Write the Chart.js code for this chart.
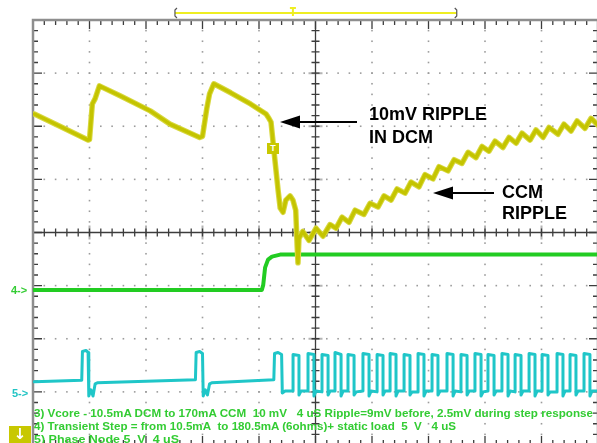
<!DOCTYPE html>
<html>
<head>
<meta charset="utf-8">
<script src="https://cdn.jsdelivr.net/npm/chart.js@4.4.0/dist/chart.umd.min.js"></script>
<style>
  html, body { margin: 0; padding: 0; background: #fff; overflow: hidden; width: 597px; height: 443px; }
  #wrap { position: relative; width: 600px; height: 447px; }
  #scope { position: absolute; left: 0; top: 0; }
  .note { position: absolute; font: bold 18px "Liberation Sans", Arial, sans-serif; color: #000; line-height: 18px; white-space: nowrap; }
  .info { position: absolute; left: 34px; font: bold 10.5px "Liberation Sans", Arial, sans-serif; color: #33cc33; line-height: 12px; white-space: nowrap; transform-origin: 0 0; }
  .chan { position: absolute; font: bold 11px "Liberation Sans", Arial, sans-serif; line-height: 11px; white-space: nowrap; }
  #trig { position: absolute; left: 267px; top: 143px; width: 12px; height: 11px; background: #c8c800; color: #fff; font: bold 9px "Liberation Sans", Arial, sans-serif; line-height: 11px; text-align: center; }
  #down { position: absolute; left: 9px; top: 426px; width: 22px; height: 20px; background: #c8c800; color: #fff; font: bold 15px "DejaVu Sans", sans-serif; line-height: 17px; text-align: center; }
</style>
</head>
<body>
<div id="wrap">
  <canvas id="scope" width="600" height="447"></canvas>
  <div class="note" style="left:369px;top:105px">10mV RIPPLE</div>
  <div class="note" style="left:369px;top:128px">IN DCM</div>
  <div class="note" style="left:502px;top:183px">CCM</div>
  <div class="note" style="left:502px;top:204px">RIPPLE</div>
  <div class="chan" style="left:11px;top:285px;color:#33cc33">4-&gt;</div>
  <div class="chan" style="left:12px;top:388px;color:#22c4c4">5-&gt;</div>
  <div id="trig">T</div>
  <div class="info" id="info1" style="top:407px" data-w="559">3) Vcore - 10.5mA DCM to 170mA CCM&nbsp; 10 mV&nbsp;&nbsp; 4 uS Ripple=9mV before, 2.5mV during step response</div>
  <div class="info" id="info2" style="top:420px" data-w="422">4) Transient Step = from 10.5mA&nbsp; to 180.5mA (6ohms)+ static load&nbsp; 5&nbsp; V&nbsp;&nbsp; 4 uS</div>
  <div class="info" id="info3" style="top:433px" data-w="145">5) Phase Node 5&nbsp; V&nbsp; 4 uS</div>
  <div id="down">↓</div>
</div>
<script>
// Time base 4 uS/div, 10 divisions on screen (0..40 uS)
const timeSpan = [0, 40];

// Ch3 Vcore, mV (10 mV/div)
const vcoreTime = [0.1, 1.9, 3.9, 4.0, 4.2, 4.4, 4.7, 6.2, 8.3, 9.7, 11.8, 12.0, 12.3, 12.5, 12.8, 14.0, 15.4, 16.5, 16.7, 16.85,
  17.05, 17.35, 17.5, 17.7, 17.9, 18.2, 18.4, 18.6, 18.7, 18.76, 18.83, 19.1, 19.54, 20.04, 20.53, 21.03, 21.45, 21.88, 22.37, 22.8,
  23.43, 23.86, 24.43, 24.85, 25.35, 25.77, 26.34, 26.76, 27.33, 27.75, 28.32, 28.74, 29.38, 29.81, 30.37, 30.8, 31.36, 31.79, 32.28, 32.71,
  33.27, 33.7, 34.2, 34.62, 35.19, 35.61, 36.11, 36.53, 37.17, 37.59, 38.09, 38.52, 39.08, 39.51, 40.0];
const vcoreMv = [21.9, 19.6, 17.0, 17.1, 23.8, 24.8, 27.2, 25.3, 22.5, 20.0, 17.5, 17.7, 22.9, 25.7, 27.6, 25.9, 23.8, 21.9, 21.1, 20.4,
  15.2, 7.6, 4.2, 3.4, 5.7, 6.5, 5.7, 3.8, -2.9, -6.1, -1.5, -0.2, -1.9, 0.4, -1.1, 1.1, 0.4, 2.5, 1.5, 3.8,
  3.0, 5.1, 4.4, 6.5, 5.7, 7.8, 7.0, 9.1, 8.2, 10.5, 9.7, 12.0, 11.2, 13.3, 12.6, 14.7, 13.7, 15.8, 14.9, 16.8,
  15.6, 17.5, 16.4, 18.3, 17.0, 18.9, 17.5, 19.4, 18.1, 20.0, 18.7, 20.6, 19.2, 21.1, 19.8];

// Ch4 transient step, V (5 V/div)
const stepTime = [0, 16.2, 16.3, 16.43, 16.64, 16.92, 17.5, 40];
const stepVolts = [0, 0, 0.48, 2.1, 2.86, 3.14, 3.33, 3.33];

// Ch5 phase node, V (5 V/div)
const phaseTime = [0.1, 3.45, 3.5, 3.75, 3.9, 3.95, 4.1, 4.25, 4.4, 4.55, 11.5, 11.55, 11.8, 12.0, 12.05, 12.2, 12.35, 12.5, 12.65,
  17.05, 17.1, 17.35, 17.6, 17.65, 17.85,
  18.41, 18.41, 18.83, 18.83, 18.98,
  19.47, 19.47, 19.89, 19.89, 20.04,
  20.46, 20.46, 20.89, 20.89, 21.04,
  21.38, 21.38, 21.81, 21.81, 21.96,
  22.30, 22.30, 22.73, 22.73, 22.88,
  23.36, 23.36, 23.79, 23.79, 23.94,
  24.36, 24.36, 24.78, 24.78, 24.93,
  25.28, 25.28, 25.70, 25.70, 25.85,
  26.27, 26.27, 26.69, 26.69, 26.84,
  27.26, 27.26, 27.68, 27.68, 27.83,
  28.25, 28.25, 28.67, 28.67, 28.82,
  29.31, 29.31, 29.74, 29.74, 29.89,
  30.30, 30.30, 30.73, 30.73, 30.88,
  31.29, 31.29, 31.72, 31.72, 31.87,
  32.21, 32.21, 32.64, 32.64, 32.79,
  33.20, 33.20, 33.63, 33.63, 33.78,
  34.13, 34.13, 34.55, 34.55, 34.70,
  35.12, 35.12, 35.54, 35.54, 35.69,
  36.04, 36.04, 36.46, 36.46, 36.61,
  37.10, 37.10, 37.52, 37.52, 37.67,
  38.02, 38.02, 38.44, 38.44, 38.59,
  39.01, 39.01, 39.43, 39.43, 39.58,
  40.0];
const phaseVolts = [1.05, 1.20, 3.90, 4.00, 3.81, -0.29, 0.29, -0.29, 0.86, 0.95, 1.25, 3.81, 3.90, 3.71, -0.29, 0.29, -0.19, 0.86, 0.95,
  1.25, 3.71, 3.81, 3.62, 0.0, 0.19,
  0.19, 3.62, 3.52, -0.19, 0.19,
  0.19, 3.71, 3.62, -0.29, 0.19,
  0.10, 3.62, 3.52, -0.19, 0.19,
  0.19, 3.81, 3.62, -0.29, 0.19,
  0.19, 3.62, 3.52, -0.19, 0.10,
  0.19, 3.71, 3.62, -0.29, 0.19,
  0.10, 3.62, 3.52, -0.19, 0.19,
  0.19, 3.71, 3.62, -0.29, 0.19,
  0.19, 3.62, 3.52, -0.19, 0.10,
  0.10, 3.71, 3.62, -0.29, 0.19,
  0.19, 3.62, 3.52, -0.19, 0.19,
  0.19, 3.71, 3.62, -0.29, 0.19,
  0.10, 3.62, 3.52, -0.19, 0.19,
  0.19, 3.71, 3.62, -0.29, 0.10,
  0.19, 3.62, 3.52, -0.19, 0.19,
  0.19, 3.71, 3.62, -0.29, 0.19,
  0.10, 3.62, 3.52, -0.19, 0.19,
  0.19, 3.71, 3.62, -0.29, 0.19,
  0.19, 3.62, 3.52, -0.19, 0.10,
  0.10, 3.71, 3.62, -0.29, 0.19,
  0.19, 3.62, 3.52, -0.19, 0.19,
  0.19, 3.71, 3.62, -0.29, 0.19,
  0.19];

// Channel scale (units per division) and ground position (divisions from centre)
const vcorePerDiv = 10, vcoreOffset = 0.04;
const stepPerDiv = 5, stepOffset = -1.082;
const phasePerDiv = 5, phaseOffset = -3.02;

// Turns a channel into screen divisions like the scope does
function toPoints(times, values, perDiv, offset) {
  return times.map((t, i) => ({ x: t, y: values[i] / perDiv + offset }));
}

// Scope graticule: dotted divisions, centre cross and border ticks
const graticule = {
  id: "graticule",
  beforeDatasetsDraw(chart) {
    const { ctx, chartArea: a, scales: { x, y } } = chart;
    const px = t => x.getPixelForValue(t);
    const py = d => y.getPixelForValue(d);
    ctx.save();

    ctx.fillStyle = "#9c9c9c";
    for (let d = 1; d < 10; d++) {
      if (d === 5) continue;
      for (let s = 0; s <= 40; s++) ctx.fillRect(px(d * 4) - 0.8, py(-4 + s * 0.2) - 0.8, 1.6, 1.6);
    }
    for (let d = -3; d <= 3; d++) {
      if (d === 0) continue;
      for (let s = 0; s <= 50; s++) ctx.fillRect(px(s * 0.8) - 0.8, py(d) - 0.8, 1.6, 1.6);
    }

    // centre cross
    const cx = px(20), cy = py(0);
    ctx.strokeStyle = "#b4b4b4";
    ctx.lineWidth = 2;
    ctx.beginPath();
    for (let d = 0; d <= 10; d++) { ctx.moveTo(px(d * 4), cy - 7); ctx.lineTo(px(d * 4), cy + 7); }
    for (let d = -4; d <= 4; d++) { ctx.moveTo(cx - 7, py(d)); ctx.lineTo(cx + 7, py(d)); }
    ctx.stroke();

    ctx.strokeStyle = "#3c3c3c";
    ctx.lineWidth = 1.3;
    ctx.beginPath();
    ctx.moveTo(a.left, cy); ctx.lineTo(a.right, cy);
    ctx.moveTo(cx, a.top); ctx.lineTo(cx, a.bottom);
    for (let s = 0; s <= 50; s++) { ctx.moveTo(px(s * 0.8), cy - 4); ctx.lineTo(px(s * 0.8), cy + 4); }
    for (let s = 0; s <= 40; s++) { ctx.moveTo(cx - 4, py(-4 + s * 0.2)); ctx.lineTo(cx + 4, py(-4 + s * 0.2)); }
    ctx.stroke();

    // border ticks
    ctx.beginPath();
    for (let s = 0; s <= 50; s++) {
      const len = s % 5 === 0 ? 9 : 5;
      ctx.moveTo(px(s * 0.8), a.top); ctx.lineTo(px(s * 0.8), a.top + len);
      ctx.moveTo(px(s * 0.8), a.bottom); ctx.lineTo(px(s * 0.8), a.bottom - len);
    }
    for (let s = 0; s <= 40; s++) {
      const len = s % 5 === 0 ? 9 : 5;
      ctx.moveTo(a.left, py(-4 + s * 0.2)); ctx.lineTo(a.left + len, py(-4 + s * 0.2));
      ctx.moveTo(a.right, py(-4 + s * 0.2)); ctx.lineTo(a.right - len, py(-4 + s * 0.2));
    }
    ctx.stroke();

    ctx.strokeStyle = "#8e8e8e";
    ctx.lineWidth = 2.5;
    ctx.strokeRect(a.left, a.top, a.right - a.left, a.bottom - a.top);
    ctx.restore();
  },
  afterDraw(chart) {
    const { ctx, scales: { x } } = chart;
    ctx.save();

    // trigger window bracket on top
    const l = x.getPixelForValue(10.05), r = x.getPixelForValue(30.0), m = x.getPixelForValue(18.4);
    ctx.strokeStyle = "#eeee22";
    ctx.lineWidth = 2;
    ctx.beginPath(); ctx.moveTo(l, 13); ctx.lineTo(r, 13); ctx.stroke();
    ctx.beginPath(); ctx.moveTo(m - 3, 8); ctx.lineTo(m + 3, 8); ctx.moveTo(m, 8); ctx.lineTo(m, 16); ctx.stroke();
    ctx.strokeStyle = "#555";
    ctx.lineWidth = 1.2;
    ctx.beginPath();
    ctx.moveTo(l + 2, 8); ctx.lineTo(l, 10); ctx.lineTo(l, 16); ctx.lineTo(l + 2, 18);
    ctx.moveTo(r - 2, 8); ctx.lineTo(r, 10); ctx.lineTo(r, 16); ctx.lineTo(r - 2, 18);
    ctx.stroke();

    // annotation arrows
    ctx.strokeStyle = "#000";
    ctx.fillStyle = "#000";
    ctx.lineWidth = 2;
    const arrow = (tip, yy, tail) => {
      ctx.beginPath(); ctx.moveTo(tail, yy); ctx.lineTo(tip + 16, yy); ctx.stroke();
      ctx.beginPath(); ctx.moveTo(tip, yy); ctx.lineTo(tip + 20, yy - 6.5); ctx.lineTo(tip + 20, yy + 6.5); ctx.closePath(); ctx.fill();
    };
    arrow(280, 122, 357);
    arrow(433, 193, 494);
    ctx.restore();
  }
};

const ctx = document.getElementById("scope").getContext("2d");

new Chart(ctx, {
  type: "scatter",
  data: {
    datasets: [
      {
        label: "Vcore",
        data: toPoints(vcoreTime, vcoreMv, vcorePerDiv, vcoreOffset),
        showLine: true,
        borderColor: "#c4c400",
        borderWidth: 3.5,
        order: 1
      },
      {
        label: "Vcore band",
        data: toPoints(vcoreTime, vcoreMv, vcorePerDiv, vcoreOffset),
        showLine: true,
        borderColor: "#d8d840",
        borderWidth: 5.5,
        order: 2
      },
      {
        label: "Transient Step",
        data: toPoints(stepTime, stepVolts, stepPerDiv, stepOffset),
        showLine: true,
        borderColor: "#22cc22",
        borderWidth: 4,
        order: 3
      },
      {
        label: "Phase Node",
        data: toPoints(phaseTime, phaseVolts, phasePerDiv, phaseOffset),
        showLine: true,
        borderColor: "#1fc6c8",
        borderWidth: 3,
        order: 4
      }
    ]
  },
  options: {
    responsive: false,
    animation: false,
    layout: { padding: { left: 33, top: 20, right: 2, bottom: 2 } },
    elements: { point: { radius: 0 }, line: { tension: 0, borderJoinStyle: "round", borderCapStyle: "round" } },
    plugins: { legend: { display: false }, tooltip: { enabled: false } },
    scales: {
      x: { type: "linear", min: timeSpan[0], max: timeSpan[1], display: false },
      y: { type: "linear", min: -4, max: 4, display: false }
    }
  },
  plugins: [graticule]
});

// Stretch the status lines to the width they take on the scope screen
document.querySelectorAll(".info").forEach(el => {
  const w = el.getBoundingClientRect().width;
  el.style.transform = "scaleX(" + (Number(el.dataset.w) / w) + ")";
});
</script>
</body>
</html>
